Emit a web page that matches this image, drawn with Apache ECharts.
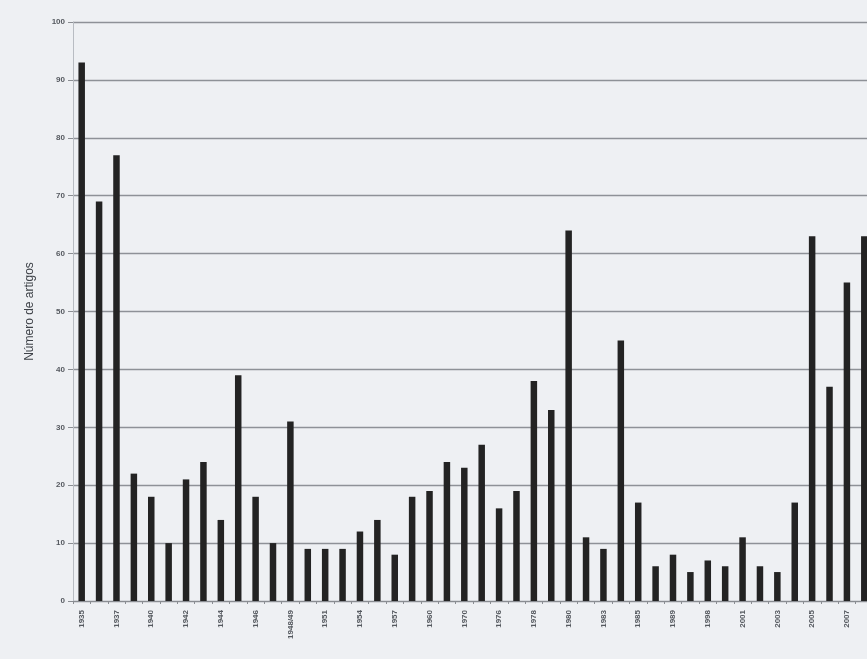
<!DOCTYPE html>
<html>
<head>
<meta charset="utf-8">
<script src="https://cdn.jsdelivr.net/npm/echarts@6/dist/echarts.min.js"></script>
<style>
html,body{margin:0;padding:0;background:#eef0f3;overflow:hidden;}
#c{width:880px;height:659px;}
</style>
</head>
<body>
<div id="c"></div>
<script>
const categories = ["1935","1936","1937","1939","1940","1941","1942","1943","1944","1945","1946","1947","1948/49","1950","1951","1953","1954","1956","1957","1958","1960","1965","1970","1975","1976","1977","1978","1979","1980","1982","1983","1984","1985","1986","1989","1990","1998","2000","2001","2002","2003","2004","2005","2006","2007","2008"];
const articles = [93,69,77,22,18,10,21,24,14,39,18,10,31,9,9,9,12,14,8,18,19,24,23,27,16,19,38,33,64,11,9,45,17,6,8,5,7,6,11,6,5,17,63,37,55,63];
const yTicks = [0,10,20,30,40,50,60,70,80,90,100];

const chart = echarts.init(document.getElementById('c'));
chart.setOption({
  backgroundColor: '#eef0f3',
  animation: false,
  grid: {left: 73, top: 22, width: 800, bottom: 58, containLabel: false},
  xAxis: {
    type: 'category',
    data: categories,
    axisLine: {lineStyle: {color: '#8a8d92', width: 1}},
    axisTick: {show: true, interval: 0, length: 3, lineStyle: {color: '#8a8d92'}},
    axisLabel: {interval: 1, rotate: 90, fontSize: 8, fontWeight: 'bold', color: '#55595f', margin: 9, fontFamily: 'Liberation Sans'}
  },
  yAxis: {
    type: 'value',
    min: 0, max: 100, interval: 10,
    name: 'Número de artigos',
    nameLocation: 'middle',
    nameGap: 37,
    nameTextStyle: {fontSize: 12, color: '#3e4248', fontFamily: 'Liberation Sans'},
    axisLine: {show: true, lineStyle: {color: '#b8bcc2', width: 1}},
    axisTick: {show: true, length: 5, lineStyle: {color: '#8a8d92'}},
    axisLabel: {fontSize: 8, fontWeight: 'bold', color: '#55595f', margin: 8, fontFamily: 'Liberation Sans',
      formatter: v => yTicks.includes(v) ? String(v) : ''},
    splitLine: {show: true, lineStyle: {color: '#8e9197', width: 1.3}}
  },
  series: [{
    type: 'bar',
    data: articles,
    barWidth: 6.5,
    itemStyle: {color: '#232323'}
  }]
});
</script>
</body>
</html>
